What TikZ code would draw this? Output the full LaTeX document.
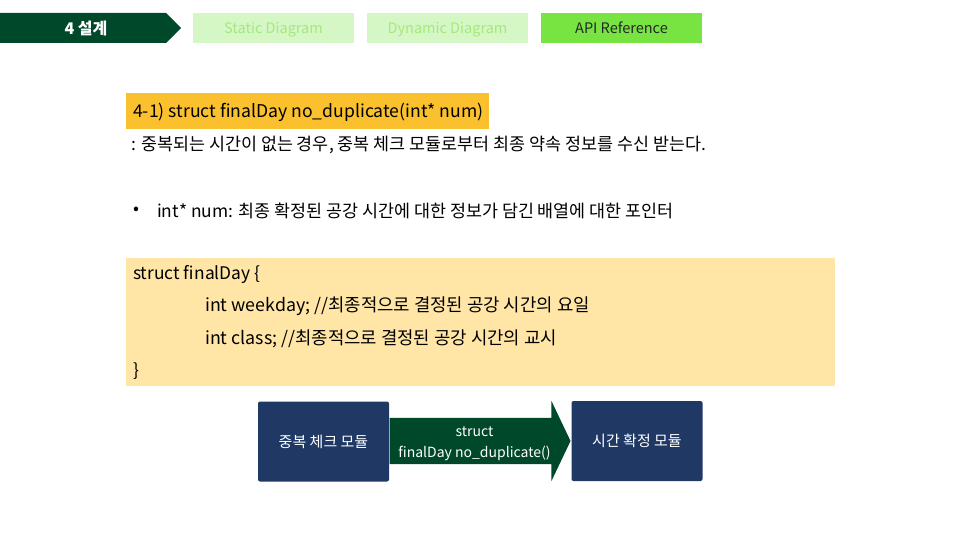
\documentclass[tikz,border=0pt]{standalone}
\usepackage{fontspec}
\setmainfont{Noto Sans CJK KR}
\usetikzlibrary{positioning,shapes.arrows}
\definecolor{darkgreen}{HTML}{00482A}
\definecolor{palegreen}{HTML}{D5F7C6}
\definecolor{palegreentext}{HTML}{A6E87C}
\definecolor{brightgreen}{HTML}{78E442}
\definecolor{titleyellow}{HTML}{FBC02D}
\definecolor{codeyellow}{HTML}{FFE5A6}
\definecolor{navy}{HTML}{1F3864}
\tikzset{
  tab/.style={fill=palegreen, text=palegreentext, minimum width=161pt, minimum height=30pt, inner sep=0pt,
    text height=12pt, text depth=0pt, font=\fontsize{14.5}{16}\selectfont},
  plain/.style={anchor=west, inner sep=0pt, font=\fontsize{17.4}{19}\selectfont},
  module/.style={fill=navy, text=white, rounded corners=2pt, minimum width=131pt, minimum height=80pt, inner sep=0pt, font=\fontsize{15}{17}\selectfont}
}
\begin{document}
\begin{tikzpicture}[x=1pt,y=-1pt]
  \useasboundingbox (0,0) rectangle (960,540);
  % header
  \fill[darkgreen] (0,13) -- (166,13) -- (181,28) -- (166,43) -- (0,43) -- cycle;
  \node[text=white, inner sep=0pt, text height=14pt, text depth=0pt, font=\fontsize{16}{18}\selectfont\bfseries] (chapter) at (86,28) {4 설계};
  \node[tab] (static) at (273.5,28) {Static Diagram};
  \node[tab] (dynamic) at (447.5,28) {Dynamic Diagram};
  \node[tab, fill=brightgreen, text=black!85] (api) at (621.5,28) {API Reference};
  % title
  \fill[titleyellow] (126,93) rectangle (489,129);
  \node[plain, font=\fontsize{17.6}{19}\selectfont] (title) at (133,112) {4-1) struct finalDay no\_duplicate(int* num)};
  \node[plain] (desc) at (131,145) {: 중복되는 시간이 없는 경우, 중복 체크 모듈로부터 최종 약속 정보를 수신 받는다.};
  \node[plain] (bullet) at (133,211) {•};
  \node[plain] (param) at (157,211) {int* num: 최종 확정된 공강 시간에 대한 정보가 담긴 배열에 대한 포인터};
  % code
  \fill[codeyellow] (126,258) rectangle (835,386);
  \node[plain] (code1) at (133,274) {struct finalDay \{};
  \node[plain, font=\fontsize{17.8}{19}\selectfont] (code2) at (205,306) {int weekday; //최종적으로 결정된 공강 시간의 요일};
  \node[plain, font=\fontsize{17.8}{19}\selectfont] (code3) at (205,339) {int class; //최종적으로 결정된 공강 시간의 교시};
  \node[plain] (code4) at (133,371) {\}};
  % modules
  \node[module] (check) at (323.5,441.5) {중복 체크 모듈};
  \node[module] (confirm) at (637,441) {시간 확정 모듈};
  \node[single arrow, fill=darkgreen, inner sep=0pt, text height=23pt, text depth=23pt, text width=0pt,
        minimum width=80pt, minimum height=181pt, single arrow head extend=17pt,
        single arrow tip angle=129]
    (call) at (474.5,441) {};
  \node[text=white, align=center, inner sep=0pt, yshift=-3pt, font=\fontsize{14}{21}\selectfont]
    (calltext) at (call.center) {struct\\finalDay no\_duplicate()};
\end{tikzpicture}
\end{document}
